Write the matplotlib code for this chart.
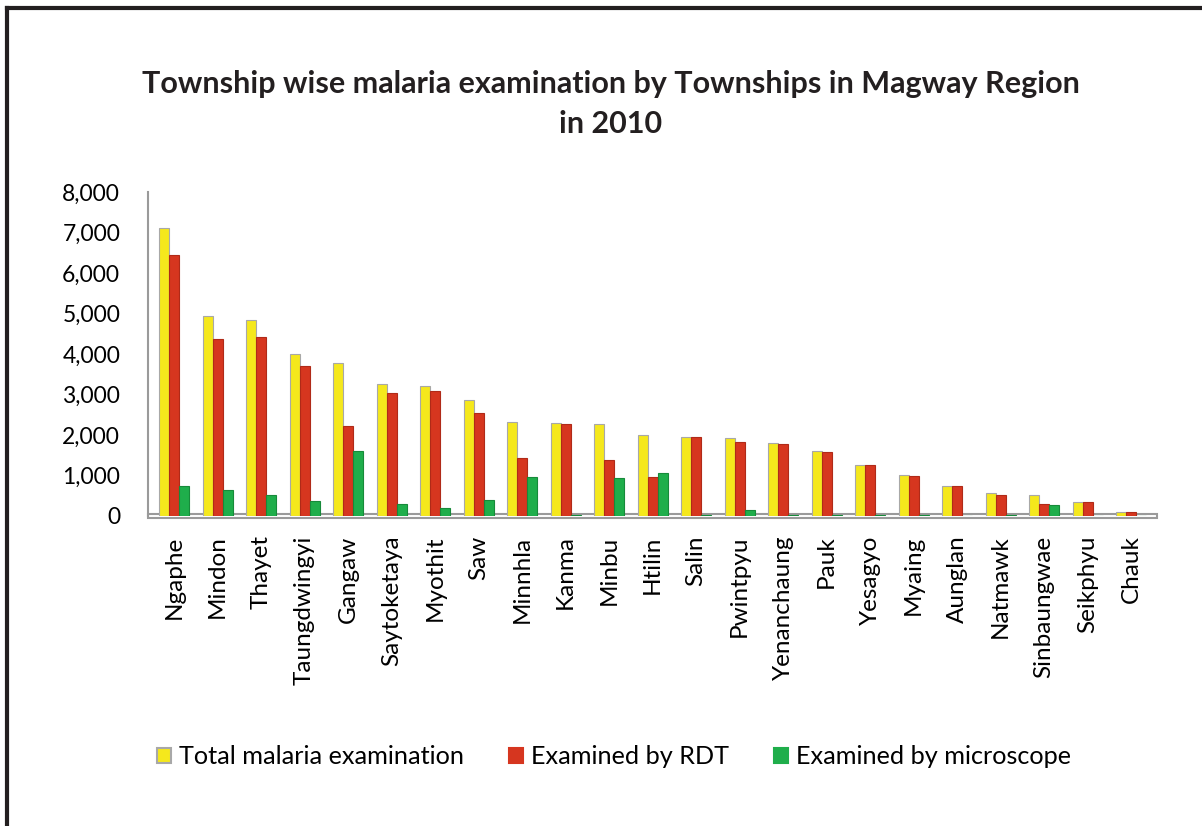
import numpy as np
import matplotlib.pyplot as plt
from matplotlib.patches import Rectangle
from matplotlib.lines import Line2D

townships = ["Ngaphe", "Mindon", "Thayet", "Taungdwingyi", "Gangaw", "Saytoketaya",
             "Myothit", "Saw", "Minnhla", "Kanma", "Minbu", "Htilin", "Salin",
             "Pwintpyu", "Yenanchaung", "Pauk", "Yesagyo", "Myaing", "Aunglan",
             "Natmawk", "Sinbaungwae", "Seikphyu", "Chauk"]
total = [7100, 4940, 4840, 4000, 3780, 3260, 3210, 2860, 2320, 2290, 2270, 2000,
         1950, 1930, 1800, 1600, 1260, 1010, 740, 560, 510, 350, 100]
rdt = [6440, 4370, 4420, 3700, 2220, 3040, 3090, 2540, 1430, 2280, 1380, 960,
       1940, 1830, 1790, 1590, 1250, 1000, 730, 530, 290, 340, 90]
micro = [740, 640, 520, 370, 1600, 300, 200, 400, 960, 20, 940, 1060,
         30, 150, 20, 20, 30, 20, 10, 30, 270, 10, 10]
series = ["Total malaria examination", "Examined by RDT", "Examined by microscope"]

plt.rcParams['font.family'] = ['Lato', 'DejaVu Sans']

fig = plt.figure(figsize=(12.02, 8.26), dpi=100)
ax = fig.add_axes([148/1202, 1-516/826, (1155-148)/1202, (516-192)/826])

x = np.arange(len(townships))
w = 0.23
cols = ['#f5e81c', '#d6361f', '#1fae4b']
edges = ['#a8a8a8', '#b02a18', '#178a3a']
for i, (vals, c, e) in enumerate(zip([total, rdt, micro], cols, edges)):
    ax.bar(x + (i - 1) * w, vals, w, color=c, edgecolor=e, linewidth=0.8, zorder=3)

# floor
ax.add_patch(Rectangle((-0.6, -60), 23.2, 120, facecolor='white', edgecolor='#9a9a9a',
                       linewidth=1.5, zorder=2, clip_on=False))

ax.set_xlim(-0.6, 22.55)
ax.set_ylim(0, 8000)
ax.set_yticks(range(0, 8001, 1000))
ax.set_yticklabels([f"{v:,}" for v in range(0, 8001, 1000)], fontsize=16.5)
ax.set_xticks(x)
ax.set_xticklabels(townships, rotation=90, fontsize=17.5)
ax.tick_params(length=0)
ax.tick_params(axis='y', pad=20)
ax.tick_params(axis='x', pad=14)
for s in ['top', 'right', 'bottom']:
    ax.spines[s].set_visible(False)
ax.spines['left'].set_color('#9a9a9a')
ax.spines['left'].set_linewidth(1.5)

fig.text(0.508, 1-84/826, "Township wise malaria examination by Townships in Magway Region",
         ha='center', va='center', fontsize=22, fontweight='bold', color='#231f20')
fig.text(0.508, 1-124/826, "in 2010", ha='center', va='center', fontsize=22,
         fontweight='bold', color='#231f20')

handles = [Rectangle((0, 0), 1, 1, facecolor=c, edgecolor=e, linewidth=1.5)
           for c, e in zip(cols, ['#a8a8a8', '#d6361f', '#1fae4b'])]
fig.legend(handles, series, loc='center', bbox_to_anchor=(0.511, 1-757/826), ncol=3,
           frameon=False, fontsize=18.2, handlelength=0.55, handleheight=0.55,
           handletextpad=0.3, columnspacing=1.8)

# border of the picture
fig.add_artist(Line2D([7/1202, 7/1202], [0, 1-8/826], color='#231f20', linewidth=3))
fig.add_artist(Line2D([7/1202, 1], [1-8/826, 1-8/826], color='#231f20', linewidth=3))

fig.savefig("out.png", dpi=100, facecolor='white')
